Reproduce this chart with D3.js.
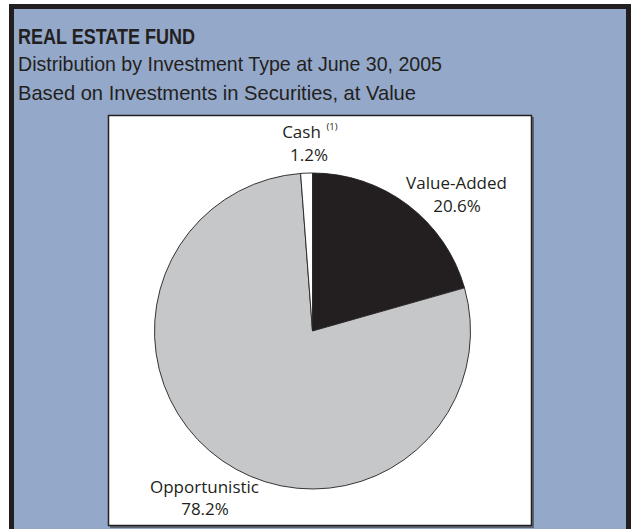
<!DOCTYPE html>
<html><head><meta charset="utf-8">
<script src="https://cdn.jsdelivr.net/npm/d3@7"></script>
<style>html,body{margin:0;padding:0;background:#fff;}svg{display:block;}</style>
</head><body>
<svg id="c" width="631" height="529"></svg>
<script>
const categories = ["Value-Added", "Opportunistic", "Cash"];
const values = [20.6, 78.2, 1.2];
const labelText = ["20.6%", "78.2%", "1.2%"];
const colors = ["#231f20", "#c6c7c9", "#ffffff"];

const svg = d3.select("#c");
// outer panel
svg.append("rect").attr("x", 11.5).attr("y", 6.5).attr("width", 617).attr("height", 530)
  .attr("fill", "#94a8c9").attr("stroke", "#231f20").attr("stroke-width", 5);

// titles
const tf = "Liberation Sans Narrow, Liberation Sans, Arial";
svg.append("text").attr("x", 18).attr("y", 44).text("REAL ESTATE FUND")
  .attr("font-family", tf).attr("font-weight", "bold")
  .attr("font-size", 22).attr("fill", "#231f20").attr("textLength", 177).attr("lengthAdjust", "spacingAndGlyphs");
svg.append("text").attr("x", 18).attr("y", 71).text("Distribution by Investment Type at June 30, 2005")
  .attr("font-family", tf)
  .attr("font-size", 21).attr("fill", "#231f20").attr("textLength", 424).attr("lengthAdjust", "spacingAndGlyphs");
svg.append("text").attr("x", 18).attr("y", 100).text("Based on Investments in Securities, at Value")
  .attr("font-family", tf)
  .attr("font-size", 21).attr("fill", "#231f20").attr("textLength", 398).attr("lengthAdjust", "spacingAndGlyphs");

// inner white box with shadow
svg.append("rect").attr("x", 110).attr("y", 117).attr("width", 424).attr("height", 411).attr("fill", "#5d6675");
svg.append("rect").attr("x", 108.5).attr("y", 115.5).attr("width", 423).attr("height", 410)
  .attr("fill", "#ffffff").attr("stroke", "#231f20").attr("stroke-width", 1.5);

// pie
const cx = 312.5, cy = 331, r = 158;
const pie = d3.pie().sort(null).value(d => d)(values);
const arc = d3.arc().innerRadius(0).outerRadius(r);
const g = svg.append("g").attr("transform", `translate(${cx},${cy})`);
g.selectAll("path").data(pie).join("path")
  .attr("d", arc).attr("fill", (d, i) => colors[i])
  .attr("stroke", "#231f20").attr("stroke-width", 0.9);

// labels
const lf = "Open Sans, Noto Sans, sans-serif";
const lab = [
  {name: [456.5, 189], pct: [457, 212]},
  {name: [204.5, 493], pct: [205, 515]},
  {name: [301.5, 138], pct: [309, 161]}
];
categories.forEach((c, i) => {
  svg.append("text").attr("x", lab[i].name[0]).attr("y", lab[i].name[1]).attr("text-anchor", "middle")
    .attr("font-family", lf).attr("font-size", 17).attr("fill", "#231f20").text(c);
  svg.append("text").attr("x", lab[i].pct[0]).attr("y", lab[i].pct[1]).attr("text-anchor", "middle")
    .attr("font-family", lf).attr("font-size", 17).attr("fill", "#231f20").text(labelText[i]);
});
svg.append("text").attr("x", 332).attr("y", 130).attr("text-anchor", "middle")
  .attr("font-family", lf).attr("font-size", 9.5).attr("fill", "#231f20").text("(1)");
</script>
</body></html>
